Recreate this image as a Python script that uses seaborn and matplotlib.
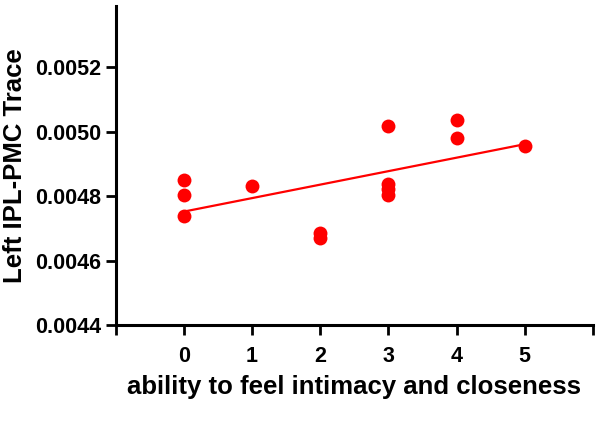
import numpy as np
import pandas as pd
import seaborn as sns
import matplotlib.pyplot as plt

# values
intimacy = [0, 0, 0, 1, 2, 2, 3, 3, 3, 3, 4, 4, 5]
ipl_pmc_trace = [0.004851, 0.004804, 0.004738, 0.004832, 0.004685, 0.004669,
                 0.005017, 0.004839, 0.004823, 0.004804, 0.005037, 0.004980, 0.004956]
x_ticks = [-1, 0, 1, 2, 3, 4, 5, 6]
x_tick_labels = ["", "0", "1", "2", "3", "4", "5", ""]
y_ticks = [0.0044, 0.0046, 0.0048, 0.0050, 0.0052]

df = pd.DataFrame({"x": intimacy, "y": ipl_pmc_trace})

sns.set_style("ticks")
plt.rcParams["font.family"] = ["Liberation Sans", "DejaVu Sans"]
plt.rcParams["font.weight"] = "bold"
plt.rcParams["text.color"] = "black"
plt.rcParams["axes.labelcolor"] = "black"
plt.rcParams["xtick.color"] = "black"
plt.rcParams["ytick.color"] = "black"

fig = plt.figure(figsize=(6, 4.22), dpi=100)
ax = fig.add_axes([0.193, 0.23, 0.795, 0.755])

sns.regplot(data=df, x="x", y="y", ax=ax, ci=None, color="#ff0000",
            scatter_kws={"s": 100, "alpha": 1, "linewidths": 0},
            line_kws={"lw": 1.6})

ax.set_xlim(-1, 6)
ax.set_ylim(0.0044, 0.00539)
ax.set_xticks(x_ticks)
ax.set_xticklabels(x_tick_labels)
ax.set_yticks(y_ticks)
ax.set_yticklabels([f"{v:.4f}" for v in y_ticks])
ax.tick_params(axis="both", labelsize=15.5, width=2, length=7,
               color="black", labelcolor="black")
ax.tick_params(axis="x", pad=8)

ax.set_xlabel("ability to feel intimacy and closeness", fontsize=18.5, fontweight="bold", labelpad=6)
ax.set_ylabel("Left IPL-PMC Trace", fontsize=18.5, fontweight="bold", labelpad=6)

for side in ["left", "bottom"]:
    ax.spines[side].set_linewidth(2.2)
    ax.spines[side].set_color("black")
sns.despine(ax=ax)

fig.savefig("out.png", dpi=100)
